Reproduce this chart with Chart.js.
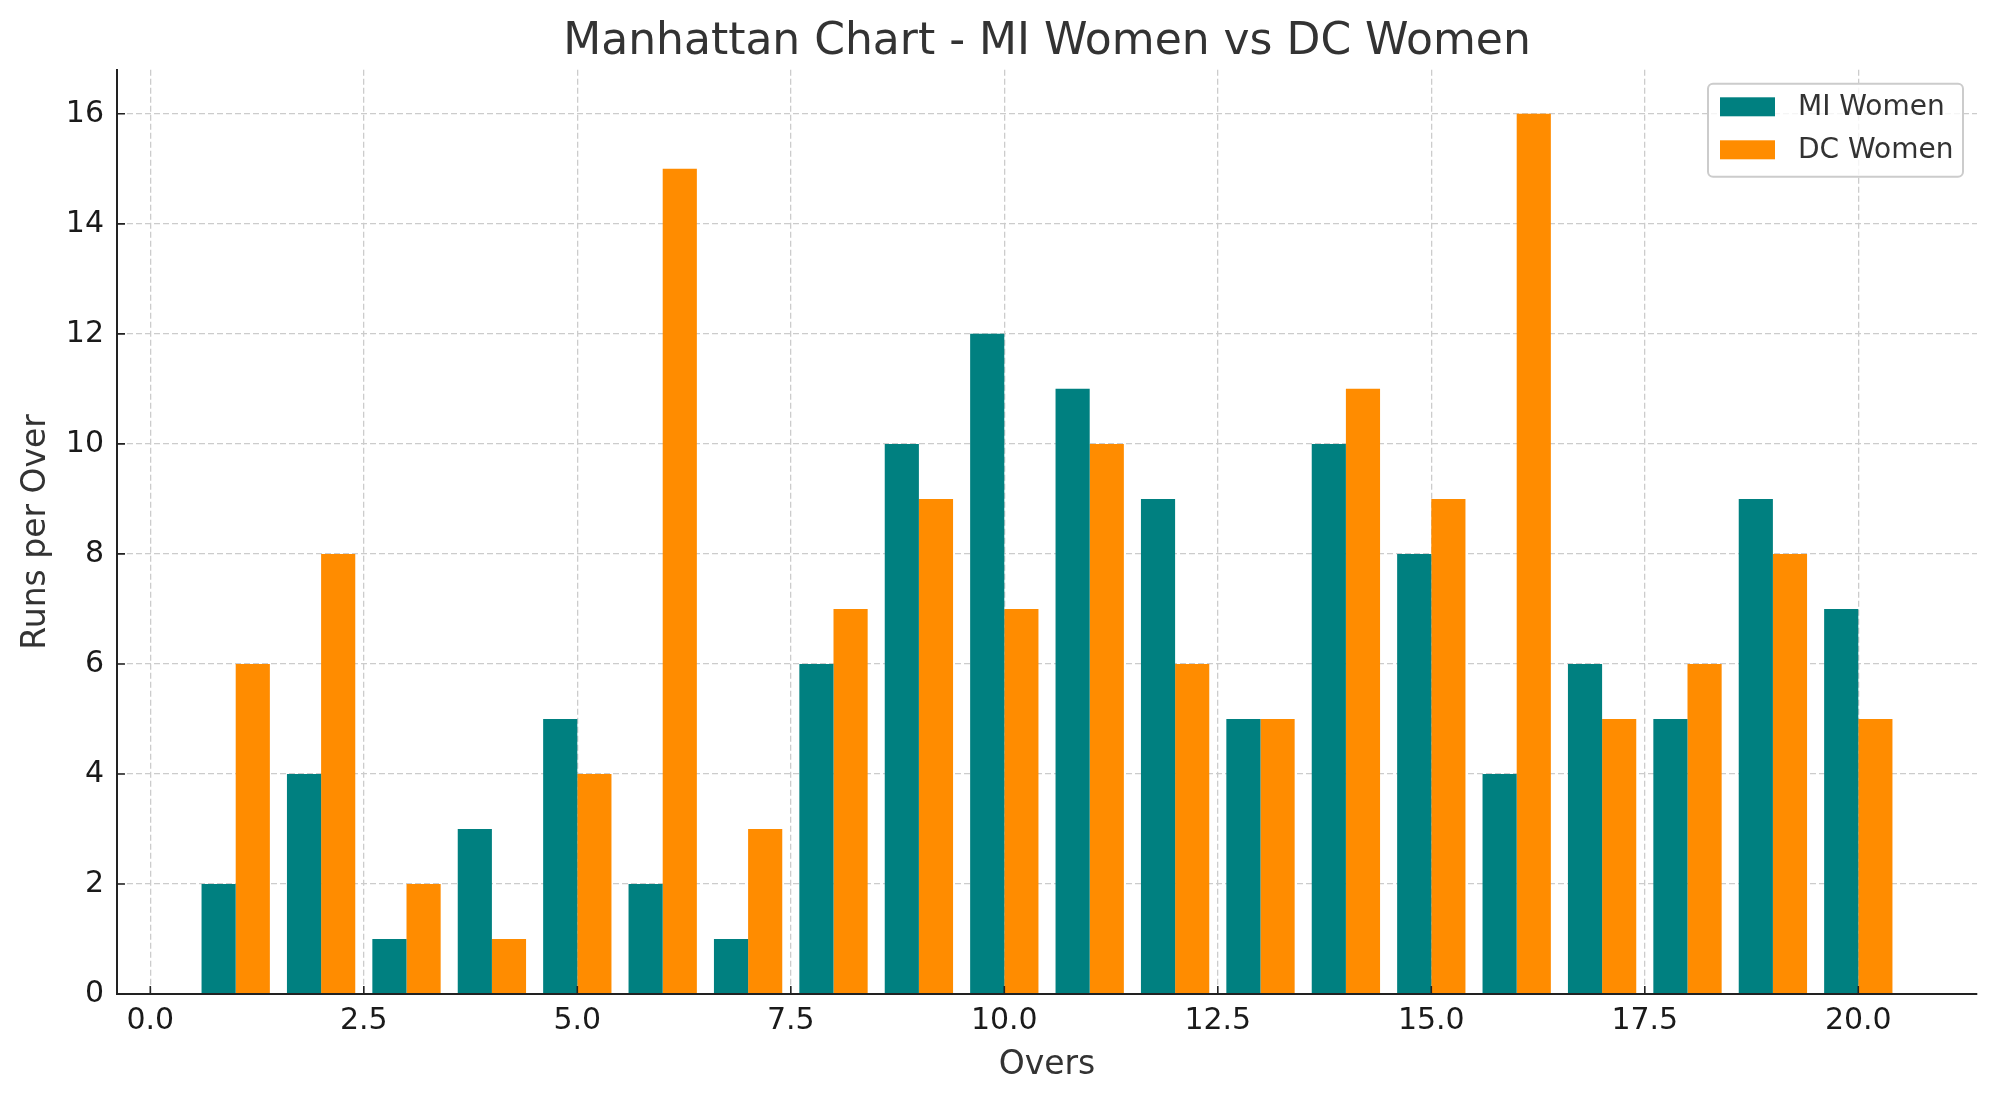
<!DOCTYPE html>
<html>
<head>
<meta charset="utf-8">
<script src="https://cdn.jsdelivr.net/npm/chart.js@4"></script>
<style>
	html, body { margin: 0; padding: 0; background: #fff; }
	#wrap { width: 1996px; height: 1101px; }
</style>
</head>
<body>
<div id="wrap"><canvas id="myChart" width="1996" height="1101"></canvas></div>
<script>
// data
var overs = [1, 2, 3, 4, 5, 6, 7, 8, 9, 10, 11, 12, 13, 14, 15, 16, 17, 18, 19, 20];
var miWomen = [2, 4, 1, 3, 5, 2, 1, 6, 10, 12, 11, 9, 5, 10, 8, 4, 6, 5, 9, 7];
var dcWomen = [6, 8, 2, 1, 4, 15, 3, 7, 9, 7, 10, 6, 5, 11, 9, 16, 5, 6, 8, 5];
var xTicks = [0, 2.5, 5, 7.5, 10, 12.5, 15, 17.5, 20];
var yTicks = [0, 2, 4, 6, 8, 10, 12, 14, 16];

var FONT = "'DejaVu Sans', sans-serif";

function toPoints(vals) {
	return overs.map(function (o, i) { return {x: o, y: vals[i]}; });
}

// рамка с легендой внутри графика
var boxLegend = {
	id: 'boxLegend',
	afterDraw: function (chart) {
		var ctx = chart.ctx, ca = chart.chartArea;
		var w = 255, h = 93;
		var x = ca.right - 14 - w, y = ca.top + 14;
		ctx.save();
		ctx.fillStyle = 'rgba(255,255,255,0.8)';
		ctx.strokeStyle = '#cccccc';
		ctx.lineWidth = 2;
		ctx.beginPath();
		ctx.roundRect(x, y, w, h, 5);
		ctx.fill();
		ctx.stroke();
		ctx.font = '28px ' + FONT;
		ctx.textBaseline = 'middle';
		chart.data.datasets.forEach(function (ds, i) {
			var cy = y + 23 + i * 43;
			ctx.fillStyle = ds.backgroundColor;
			ctx.fillRect(x + 12, cy - 9.5, 55, 19);
			ctx.fillStyle = '#333333';
			ctx.fillText(ds.label, x + 90, cy + 1);
		});
		ctx.restore();
	}
};

// тики внутрь, как в matplotlib
var inTicks = {
	id: 'inTicks',
	afterDraw: function (chart) {
		var ctx = chart.ctx, ca = chart.chartArea;
		var sx = chart.scales.x, sy = chart.scales.y;
		ctx.save();
		ctx.strokeStyle = '#222222';
		ctx.lineWidth = 1.6;
		ctx.beginPath();
		xTicks.forEach(function (v) {
			var px = sx.getPixelForValue(v);
			ctx.moveTo(px, ca.bottom);
			ctx.lineTo(px, ca.bottom - 8);
		});
		yTicks.forEach(function (v) {
			var py = sy.getPixelForValue(v);
			ctx.moveTo(ca.left, py);
			ctx.lineTo(ca.left + 8, py);
		});
		ctx.stroke();
		ctx.restore();
	}
};

var ctx = document.getElementById('myChart').getContext('2d');
var chart = new Chart(ctx, {
	type: 'bar',
	data: {
		datasets: [
			{
				label: 'MI Women',
				backgroundColor: '#008080',
				data: toPoints(miWomen)
			},
			{
				label: 'DC Women',
				backgroundColor: '#ff8c00',
				data: toPoints(dcWomen)
			}
		]
	},
	options: {
		responsive: false,
		animation: false,
		categoryPercentage: 0.8,
		barPercentage: 1.0,
		layout: { padding: { left: 0, right: 19, top: 0, bottom: 0 } },
		plugins: {
			legend: { display: false },
			tooltip: { enabled: false },
			title: {
				display: true,
				fullSize: false,
				text: 'Manhattan Chart - MI Women vs DC Women',
				color: '#333333',
				font: { family: FONT, size: 44, weight: 'normal' },
				padding: { top: 16, bottom: 1 }
			}
		},
		scales: {
			x: {
				type: 'linear',
				offset: false,
				min: -0.39,
				max: 21.39,
				afterBuildTicks: function (axis) {
					axis.ticks = xTicks.map(function (v) { return {value: v}; });
				},
				afterFit: function (axis) { axis.height = 107; },
				ticks: {
					color: '#1a1a1a',
					font: { family: FONT, size: 30 },
					padding: 9,
					maxRotation: 0,
					callback: function (v) { return Number(v).toFixed(1); }
				},
				grid: { offset: false, color: '#cccccc', lineWidth: 1.3, drawTicks: false },
				border: { display: true, color: '#222222', width: 2, dash: [6, 3], z: 1 },
				title: {
					display: true,
					text: 'Overs',
					color: '#333333',
					font: { family: FONT, size: 33 },
					padding: { top: 0, bottom: 16 }
				}
			},
			y: {
				type: 'linear',
				min: 0,
				max: 16.8,
				afterBuildTicks: function (axis) {
					axis.ticks = yTicks.map(function (v) { return {value: v}; });
				},
				afterFit: function (axis) { axis.width = 117; },
				ticks: {
					color: '#1a1a1a',
					font: { family: FONT, size: 30 },
					padding: 13,
					callback: function (v) { return String(v); }
				},
				grid: { color: '#cccccc', lineWidth: 1.3, drawTicks: false },
				border: { display: true, color: '#222222', width: 2, dash: [6, 3], z: 1 },
				title: {
					display: true,
					text: 'Runs per Over',
					color: '#333333',
					font: { family: FONT, size: 33 },
					padding: { top: 17, bottom: 0 }
				}
			}
		}
	},
	plugins: [boxLegend, inTicks]
});
</script>
</body>
</html>
